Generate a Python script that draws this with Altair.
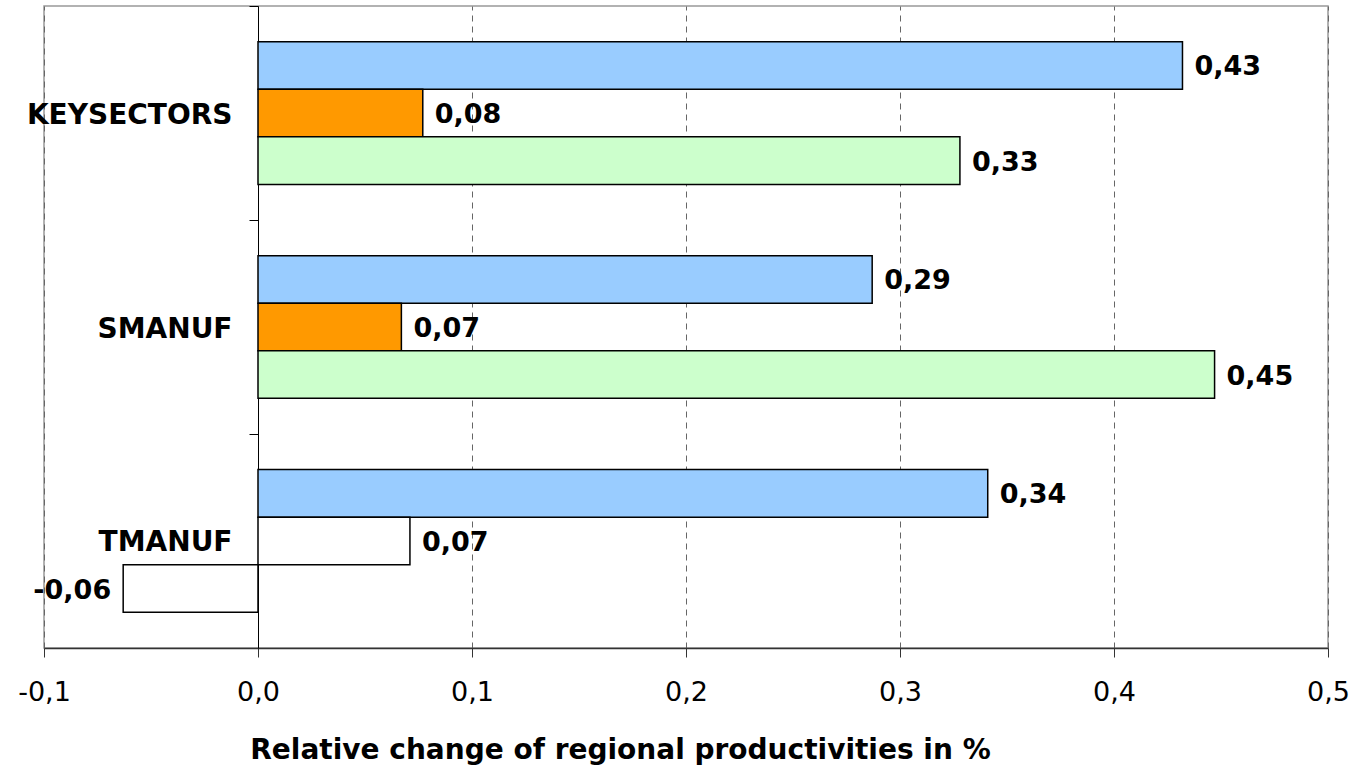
import altair as alt
import pandas as pd

# Sectors (top to bottom) and the three series drawn in each group
categories = ["KEYSECTORS", "SMANUF", "TMANUF"]
series = ["Series 1", "Series 2", "Series 3"]

# Relative change of regional productivities in %, one list per series
values_s1 = [0.432, 0.287, 0.341]
values_s2 = [0.077, 0.067, 0.071]
values_s3 = [0.328, 0.447, -0.063]

# Bar fills per series; TMANUF's 2nd and 3rd bars are drawn unfilled
palette = {"Series 1": "#99CCFF", "Series 2": "#FF9900", "Series 3": "#CCFFCC"}
unfilled = {("TMANUF", "Series 2"), ("TMANUF", "Series 3")}

rows = []
for s, vals in zip(series, [values_s1, values_s2, values_s3]):
    for c, v in zip(categories, vals):
        fill = "#FFFFFF" if (c, s) in unfilled else palette[s]
        rows.append({"category": c, "series": s, "value": v, "fill": fill})
df = pd.DataFrame(rows)

FONT = "DejaVu Sans"
W, H = 1284, 642
X_MIN, X_MAX = -0.1, 0.5
# the category axis crosses the value axis at zero
zero_offset = (0 - X_MIN) / (X_MAX - X_MIN) * W
half_step = H / len(categories) / 2

x_enc = alt.X(
    "value:Q",
    scale=alt.Scale(domain=[X_MIN, X_MAX], nice=False, zero=False),
    axis=alt.Axis(
        values=[-0.1, 0.0, 0.1, 0.2, 0.3, 0.4, 0.5],
        labelExpr="replace(replace(format(datum.value, '.1f'), '.', ','), '−', '-')",
        labelFlush=False,
        title="Relative change of regional productivities in %",
        titleFont=FONT,
        titleFontSize=28,
        titleFontWeight="bold",
        titleColor="black",
        titleX=576,
        titleY=110,
        titleBaseline="alphabetic",
        titleAlign="center",
        labelFont=FONT,
        labelFontSize=27,
        labelColor="black",
        labelPadding=22,
        tickSize=9,
        tickColor="#333",
        domainColor="#333",
        domainWidth=1.5,
        grid=True,
        gridColor="#666",
        gridDash=[6, 5],
        gridWidth=1,
    ),
)

y_enc = alt.Y(
    "category:N",
    sort=categories,
    scale=alt.Scale(paddingInner=0.333, paddingOuter=0.1667),
    axis=alt.Axis(
        title=None,
        offset=-zero_offset,
        tickOffset=-half_step,
        labelOffset=half_step + 2,
        tickSize=9,
        tickColor="black",
        domainColor="black",
        domainWidth=1,
        labelFont=FONT,
        labelFontSize=28,
        labelFontWeight="bold",
        labelColor="black",
        labelPadding=17,
        labelLimit=0,
        grid=False,
    ),
)

y_off = alt.YOffset("series:N", sort=series, scale=alt.Scale(paddingInner=0, paddingOuter=0))

base = alt.Chart(df)

bars = base.mark_bar(stroke="black", strokeWidth=1.5, cornerRadius=0).encode(
    x=x_enc,
    x2=alt.datum(0),
    y=y_enc,
    yOffset=y_off,
    color=alt.Color("fill:N", scale=None),
)

label_expr = "replace(replace(format(datum.value, '.2f'), '.', ','), '−', '-')"

labels_pos = (
    base.transform_filter("datum.value >= 0")
    .transform_calculate(label=label_expr)
    .mark_text(align="left", baseline="middle", dx=12, dy=2, font=FONT, fontSize=27,
               fontWeight="bold", color="black")
    .encode(x="value:Q", y=alt.Y("category:N", sort=categories), yOffset=y_off,
            text="label:N")
)

labels_neg = (
    base.transform_filter("datum.value < 0")
    .transform_calculate(label=label_expr)
    .mark_text(align="right", baseline="middle", dx=-12, dy=2, font=FONT, fontSize=27,
               fontWeight="bold", color="black")
    .encode(x="value:Q", y=alt.Y("category:N", sort=categories), yOffset=y_off,
            text="label:N")
)

chart = (
    alt.layer(bars, labels_pos, labels_neg)
    .properties(
        width=W,
        height=H,
        autosize=alt.AutoSizeParams(type="none"),
        padding={"left": 44, "top": 6, "right": 25, "bottom": 117},
        background="white",
    )
    .configure_view(stroke="#999", strokeWidth=1.5)
)

chart.save("out.html", embed_options={"renderer": "svg", "actions": False})
